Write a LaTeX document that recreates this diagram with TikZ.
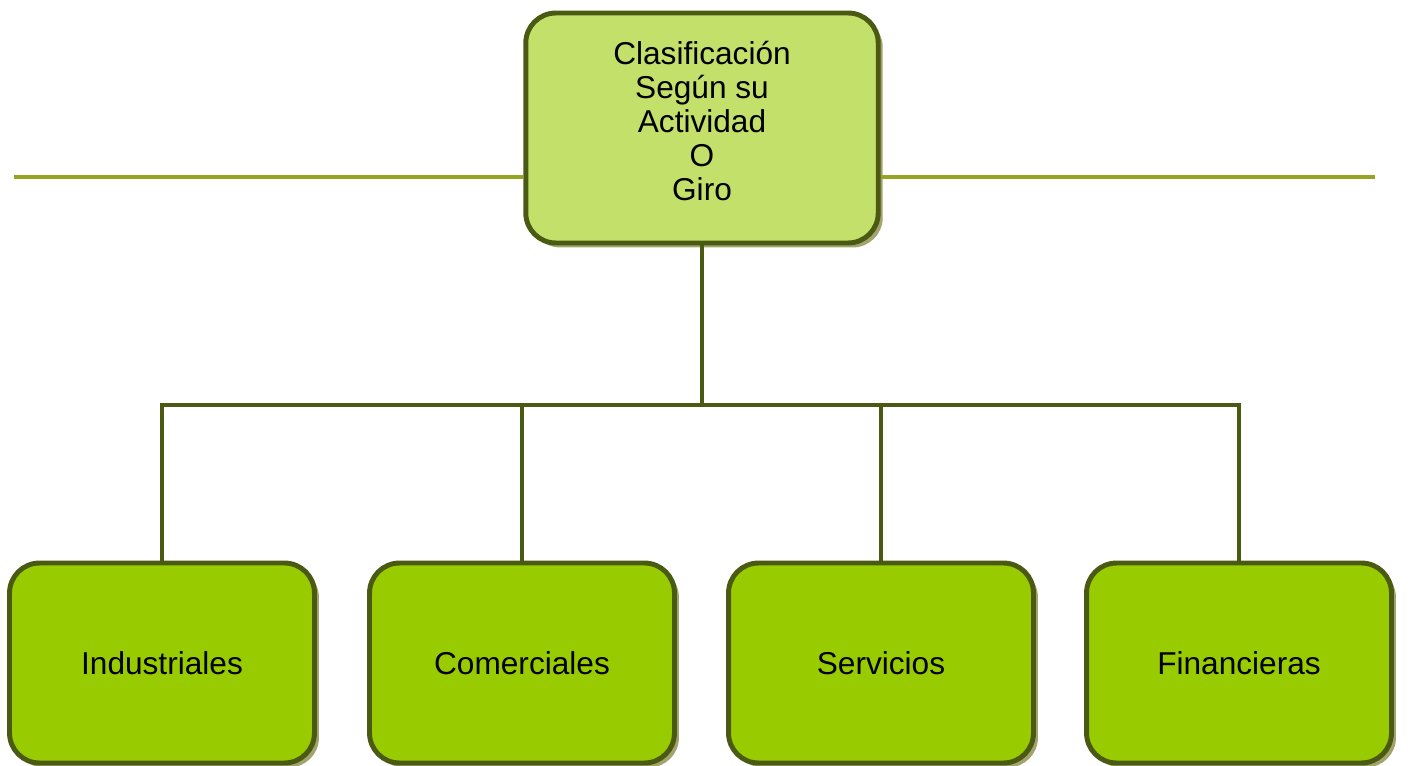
\documentclass[tikz,border=0pt]{standalone}
\usepackage{fontspec}
\setmainfont{Liberation Sans}
\usetikzlibrary{shadows}
\definecolor{boxedge}{HTML}{4A5A12}
\definecolor{topfill}{HTML}{C2E06A}
\definecolor{leaffill}{HTML}{99CC00}
\definecolor{shade}{HTML}{A3A36E}
\definecolor{rule}{HTML}{96A424}
\begin{document}
\begin{tikzpicture}[x=0.02cm,y=-0.02cm,
  box/.style={draw=boxedge, line width=2.8pt, rounded corners=0.6cm,
    align=center, font=\fontsize{18}{19.4}\selectfont,
    drop shadow={shadow xshift=0.09cm, shadow yshift=-0.09cm, fill=shade, opacity=1}},
  leaf/.style={box, fill=leaffill, minimum width=6.1cm, minimum height=4.0cm},
  link/.style={draw=boxedge, line width=2.4pt}]
  \useasboundingbox (0,0) rectangle (1408,766);

  \node[box, fill=topfill, minimum width=7.05cm, minimum height=4.6cm] (top) at (702,128) {};
  \node[align=center, font=\fontsize{18}{19.4}\selectfont] (toptext) at (702,121)
    {Clasificación\\Según su\\Actividad\\O\\Giro};

  \coordinate (lend) at (14,177);
  \coordinate (rend) at (1375,177);
  \draw[rule, line width=2pt] (lend) -- (lend -| top.west);
  \draw[rule, line width=2pt] (rend) -- (rend -| top.east);

  \node[leaf] (ind) at (162,663) {Industriales};
  \node[leaf] (com) at (522,663) {Comerciales};
  \node[leaf] (ser) at (881,663) {Servicios};
  \node[leaf] (fin) at (1239,663) {Financieras};

  \coordinate (hub) at (702,405);
  \draw[link] (top.south) -- (hub);
  \foreach \n in {ind,com,ser,fin}
    \draw[link] (hub) -| (\n.north);
\end{tikzpicture}
\end{document}
